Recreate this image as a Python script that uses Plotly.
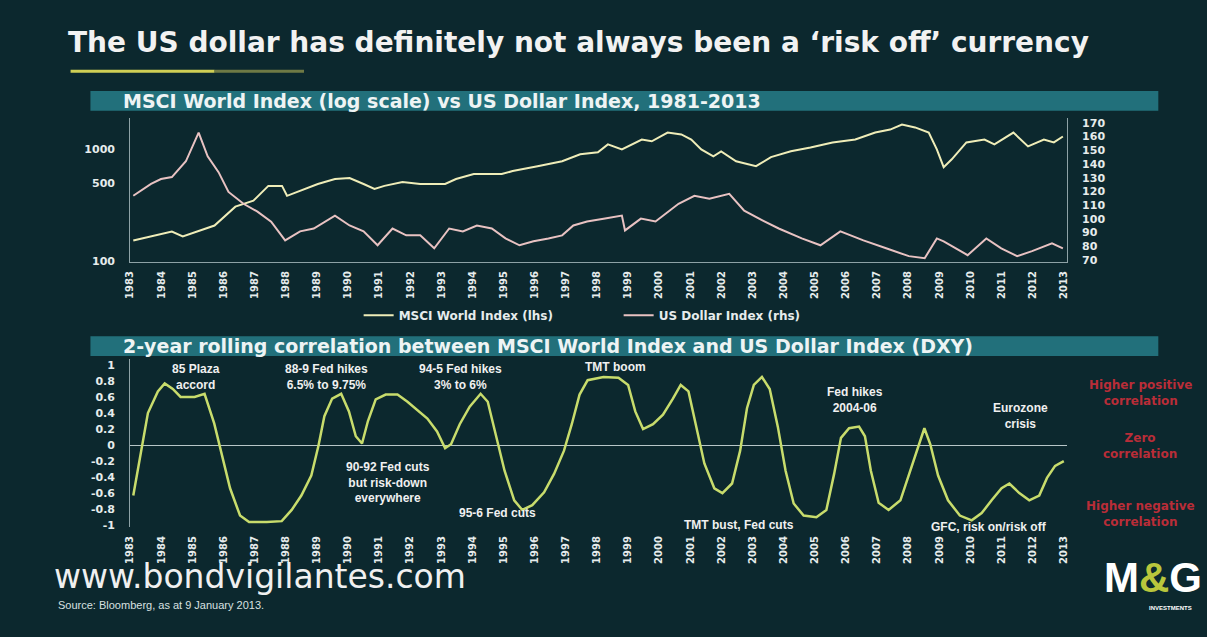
import plotly.graph_objects as go

W, H = 1207, 637

# ---------------- data ----------------
years = [1983, 1984, 1985, 1986, 1987, 1988, 1989, 1990, 1991, 1992, 1993, 1994, 1995,
         1996, 1997, 1998, 1999, 2000, 2001, 2002, 2003, 2004, 2005, 2006, 2007, 2008,
         2009, 2010, 2011, 2012, 2013]

msci_t = [1983.10, 1984.34, 1984.69, 1985.71, 1986.38, 1986.96, 1987.44, 1987.88, 1988.04,
          1988.46, 1989.03, 1989.58, 1990.05, 1990.50, 1990.85, 1991.17, 1991.75, 1992.32,
          1993.12, 1993.47, 1994.04, 1994.94, 1995.29, 1996.09, 1996.88, 1997.46, 1998.03,
          1998.35, 1998.80, 1999.44, 1999.76, 2000.27, 2000.71, 2001.03, 2001.35, 2001.74,
          2001.99, 2002.47, 2003.11, 2003.59, 2004.23, 2004.86, 2005.57, 2006.30, 2006.94,
          2007.42, 2007.80, 2008.22, 2008.66, 2008.92, 2009.14, 2009.40, 2009.87, 2010.45,
          2010.77, 2011.38, 2011.85, 2012.36, 2012.68, 2012.97]
msci_v = [153, 184, 166, 208, 307, 347, 471, 471, 384,
          425, 490, 543, 554, 490, 443, 471, 510, 490,
          490, 543, 601, 601, 639, 707, 783, 903, 940,
          1107, 1000, 1225, 1180, 1413, 1360, 1225, 1000, 867,
          957, 783, 707, 852, 960, 1041, 1153, 1225, 1413,
          1503, 1665, 1571, 1413, 1000, 693, 815, 1153, 1225,
          1107, 1413, 1063, 1225, 1153, 1303]

dxy_t = [1983.10, 1983.67, 1983.99, 1984.34, 1984.79, 1985.20, 1985.49, 1985.84, 1986.16,
         1986.64, 1987.09, 1987.53, 1987.98, 1988.46, 1988.90, 1989.58, 1990.05, 1990.50,
         1990.95, 1991.43, 1991.87, 1992.32, 1992.77, 1993.25, 1993.69, 1994.14, 1994.62,
         1995.06, 1995.51, 1995.96, 1996.44, 1996.88, 1997.24, 1997.68, 1998.26, 1998.80,
         1998.90, 1999.41, 1999.88, 2000.62, 2001.13, 2001.61, 2002.25, 2002.73, 2003.33,
         2003.84, 2004.58, 2005.18, 2005.82, 2006.56, 2007.29, 2008.02, 2008.53, 2008.92,
         2009.14, 2009.52, 2009.91, 2010.51, 2010.99, 2011.50, 2011.98, 2012.62, 2012.97]
dxy_v = [116.8, 125.4, 129.0, 130.4, 141.9, 162.8, 145.5, 134.0, 119.6,
         111.0, 105.3, 98.0, 84.4, 90.9, 93.0, 102.4, 95.2, 90.9,
         80.8, 93.0, 88.0, 88.0, 78.6, 93.0, 90.9, 95.2, 93.0,
         85.8, 80.8, 83.7, 85.8, 88.0, 95.2, 98.1, 100.2, 102.4,
         91.6, 100.2, 98.1, 111.0, 116.8, 114.6, 118.2, 106.0, 98.8,
         93.0, 85.8, 80.8, 90.9, 84.4, 78.6, 72.9, 71.4, 85.8,
         83.7, 78.6, 73.6, 85.8, 78.6, 72.9, 76.5, 82.2, 78.6]

corr_t = [1983.10, 1983.32, 1983.57, 1983.89, 1984.11, 1984.37, 1984.62, 1985.07, 1985.39,
          1985.70, 1985.96, 1986.21, 1986.53, 1986.82, 1987.39, 1987.87, 1988.19, 1988.50,
          1988.82, 1989.05, 1989.24, 1989.49, 1989.78, 1990.03, 1990.25, 1990.45, 1990.64,
          1990.89, 1991.21, 1991.59, 1991.91, 1992.23, 1992.55, 1992.86, 1993.12, 1993.31,
          1993.59, 1993.91, 1994.26, 1994.49, 1994.77, 1995.03, 1995.34, 1995.60, 1995.92,
          1996.30, 1996.62, 1996.94, 1997.19, 1997.44, 1997.70, 1998.21, 1998.69, 1999.00,
          1999.23, 1999.48, 1999.80, 2000.12, 2000.44, 2000.69, 2000.94, 2001.20, 2001.45,
          2001.77, 2002.03, 2002.34, 2002.60, 2002.82, 2003.04, 2003.30, 2003.55, 2003.81,
          2004.06, 2004.32, 2004.64, 2005.05, 2005.37, 2005.62, 2005.84, 2006.10, 2006.42,
          2006.61, 2006.80, 2007.05, 2007.37, 2007.75, 2008.07, 2008.33, 2008.52, 2008.71,
          2008.96, 2009.28, 2009.66, 2010.04, 2010.36, 2010.68, 2011.00, 2011.25, 2011.57,
          2011.89, 2012.21, 2012.46, 2012.72, 2013.00]
corr_v = [-0.63, -0.14, 0.40, 0.67, 0.77, 0.70, 0.60, 0.60, 0.64,
          0.27, -0.14, -0.54, -0.88, -0.96, -0.96, -0.95, -0.81, -0.63,
          -0.38, -0.01, 0.36, 0.58, 0.64, 0.42, 0.11, 0.02, 0.30,
          0.57, 0.63, 0.63, 0.54, 0.44, 0.33, 0.17, -0.04, 0.01,
          0.26, 0.48, 0.64, 0.54, 0.11, -0.32, -0.69, -0.81, -0.75,
          -0.59, -0.36, -0.07, 0.26, 0.63, 0.81, 0.85, 0.84, 0.75,
          0.42, 0.20, 0.26, 0.38, 0.58, 0.75, 0.67, 0.23, -0.23,
          -0.54, -0.60, -0.48, -0.07, 0.46, 0.75, 0.85, 0.70, 0.23,
          -0.32, -0.73, -0.88, -0.90, -0.81, -0.36, 0.09, 0.21, 0.23,
          0.11, -0.32, -0.72, -0.81, -0.69, -0.32, -0.01, 0.21, 0.01,
          -0.38, -0.69, -0.88, -0.94, -0.85, -0.69, -0.54, -0.48, -0.60,
          -0.69, -0.63, -0.41, -0.26, -0.20]

msci_ticks = [100, 500, 1000]
dxy_ticks = [70, 80, 90, 100, 110, 120, 130, 140, 150, 160, 170]
corr_ticks = [1, 0.8, 0.6, 0.4, 0.2, 0, -0.2, -0.4, -0.6, -0.8, -1]
corr_labels = ["1", "0.8", "0.6", "0.4", "0.2", "0", "-0.2", "-0.4", "-0.6", "-0.8", "-1"]

notes = [
    ("85 Plaza<br>accord", 1985.1, 0.85),
    ("88-9 Fed hikes<br>6.5% to 9.75%", 1989.3, 0.85),
    ("94-5 Fed hikes<br>3% to 6%", 1993.6, 0.85),
    ("TMT boom", 1998.6, 0.98),
    ("Fed hikes<br>2004-06", 2006.3, 0.56),
    ("Eurozone<br>crisis", 2011.6, 0.36),
    ("90-92 Fed cuts<br>but risk-down<br>everywhere", 1991.3, -0.47),
    ("95-6 Fed cuts", 1994.8, -0.85),
    ("TMT bust, Fed cuts", 2002.55, -1.0),
    ("GFC, risk on/risk off", 2010.6, -1.02),
]

# ---------------- helpers (pixel -> paper) ----------------
def px(x):
    return x / W

def py(y):
    return 1 - y / H

BG = "#0c282e"
TXT = "#e6ecec"
AX = "#8ea2a6"
FONT = "Liberation Sans"
WIDE = "DejaVu Sans"

fig = go.Figure()
fig.add_trace(go.Scatter(x=msci_t, y=msci_v, xaxis="x", yaxis="y", mode="lines",
                         line=dict(color="#efedb8", width=2), name="MSCI World Index (lhs)"))
fig.add_trace(go.Scatter(x=dxy_t, y=dxy_v, xaxis="x", yaxis="y2", mode="lines",
                         line=dict(color="#e8c2c2", width=2), name="US Dollar Index (rhs)"))
fig.add_trace(go.Scatter(x=corr_t, y=corr_v, xaxis="x2", yaxis="y3", mode="lines",
                         line=dict(color="#c8dc6c", width=2.5), showlegend=False))

xdom = [px(125), px(1068)]
tickfont = dict(family=WIDE, size=10, color=TXT, weight="bold")
ytickfont = dict(family=WIDE, size=11, color=TXT, weight="bold")

fig.update_layout(
    width=W, height=H, autosize=False,
    margin=dict(l=0, r=0, t=0, b=0),
    paper_bgcolor=BG, plot_bgcolor="rgba(0,0,0,0)",
    font=dict(family=FONT, color=TXT),
    showlegend=True,
    legend=dict(orientation="h", x=px(355), y=py(303), xanchor="left", yanchor="top",
                font=dict(family=WIDE, size=12, color=TXT, weight="bold"),
                bgcolor="rgba(0,0,0,0)", itemwidth=30,
                entrywidth=215, entrywidthmode="pixels"),
    xaxis=dict(domain=xdom, range=[1983, 2013.1], anchor="y",
               tickvals=years, ticktext=[str(y) for y in years], tickangle=-90,
               tickfont=tickfont, showline=True, linecolor=AX, linewidth=1,
               showgrid=False, zeroline=False, ticks="", ticklabelstandoff=4),
    yaxis=dict(domain=[py(264), py(118)], type="log", range=[1.9912, 3.2832], anchor="x",
               tickvals=msci_ticks, ticktext=[str(v) for v in msci_ticks],
               tickfont=ytickfont, showline=True, linecolor=AX, linewidth=1,
               showgrid=False, zeroline=False, ticks="", ticklabelstandoff=12),
    yaxis2=dict(overlaying="y", side="right", range=[68.56, 173.6], anchor="x",
                tickvals=dxy_ticks, ticktext=[str(v) for v in dxy_ticks],
                tickfont=ytickfont, showline=True, linecolor=AX, linewidth=1,
                showgrid=False, zeroline=False, ticks="", ticklabelstandoff=12),
    xaxis2=dict(domain=xdom, range=[1983, 2013.1], anchor="y3",
                tickvals=years, ticktext=[str(y) for y in years], tickangle=-90,
                tickfont=tickfont, showline=False, showgrid=False, zeroline=False,
                ticks="", ticklabelstandoff=6),
    yaxis3=dict(domain=[py(532), py(362)], range=[-1.025, 1.074], anchor="x2",
                tickvals=corr_ticks, ticktext=corr_labels,
                tickfont=ytickfont, showline=True, linecolor=AX, linewidth=1,
                showgrid=False, zeroline=True, zerolinecolor="#b8c6c8", zerolinewidth=1,
                ticks="", ticklabelstandoff=12),
)

shapes = [
    # title underline
    dict(type="line", xref="paper", yref="paper", x0=px(65), x1=px(210), y0=py(71), y1=py(71),
         line=dict(color="#cfcf55", width=3)),
    dict(type="line", xref="paper", yref="paper", x0=px(210), x1=px(300), y0=py(71), y1=py(71),
         line=dict(color="#6f7a45", width=3)),
    # header bars
    dict(type="rect", xref="paper", yref="paper", x0=px(85), x1=px(1160), y0=py(111), y1=py(91),
         fillcolor="#22707b", line=dict(width=0), layer="below"),
    dict(type="rect", xref="paper", yref="paper", x0=px(85), x1=px(1160), y0=py(359), y1=py(339),
         fillcolor="#22707b", line=dict(width=0), layer="below"),
]
fig.update_layout(shapes=shapes)

ann = []
ann.append(dict(text="<b>The US dollar has definitely not always been a ‘risk off’ currency</b>",
                x=px(60), y=py(42), xref="paper", yref="paper", xanchor="left", yanchor="middle",
                showarrow=False, font=dict(family=WIDE, size=28, color="#f2f2f2")))
ann.append(dict(text="<b>MSCI World Index (log scale) vs US Dollar Index, 1981-2013</b>",
                x=px(116), y=py(101), xref="paper", yref="paper", xanchor="left", yanchor="middle",
                showarrow=False, font=dict(family=WIDE, size=19, color="#eef4f4")))
ann.append(dict(text="<b>2-year rolling correlation between MSCI World Index and US Dollar Index (DXY)</b>",
                x=px(116), y=py(349), xref="paper", yref="paper", xanchor="left", yanchor="middle",
                showarrow=False, font=dict(family=WIDE, size=19, color="#eef4f4")))
for txt, xx, yy in notes:
    ann.append(dict(text="<b>" + txt + "</b>", x=xx, y=yy, xref="x2", yref="y3",
                    xanchor="center", yanchor="middle", showarrow=False,
                    font=dict(family=FONT, size=12, color="#f0f0f0"), align="center"))
for txt, yy in [("Higher positive<br>correlation", 396), ("Zero<br>correlation", 450),
                ("Higher negative<br>correlation", 519)]:
    ann.append(dict(text="<b>" + txt + "</b>", x=px(1142), y=py(yy), xref="paper", yref="paper",
                    xanchor="center", yanchor="middle", showarrow=False, align="center",
                    font=dict(family=WIDE, size=12, color="#b92d38")))
ann.append(dict(text="www.bondvigilantes.com", x=px(46), y=py(582), xref="paper", yref="paper",
                xanchor="left", yanchor="middle", showarrow=False,
                font=dict(family=WIDE, size=33, color="#f0f0f0")))
ann.append(dict(text="Source: Bloomberg, as at 9 January 2013.", x=px(50), y=py(611), xref="paper",
                yref="paper", xanchor="left", yanchor="middle", showarrow=False,
                font=dict(family=FONT, size=11, color="#d8e0e0")))
ann.append(dict(text="<b>M<span style='color:#b9c63c'>&</span>G</b>", x=px(1155), y=py(583),
                xref="paper", yref="paper", xanchor="center", yanchor="middle", showarrow=False,
                font=dict(family=FONT, size=42, color="#ffffff")))
ann.append(dict(text="<b>INVESTMENTS</b>", x=px(1172), y=py(614), xref="paper", yref="paper",
                xanchor="center", yanchor="middle", showarrow=False,
                font=dict(family=FONT, size=6, color="#ffffff")))
fig.update_layout(annotations=ann)

fig.write_html("out.html")
